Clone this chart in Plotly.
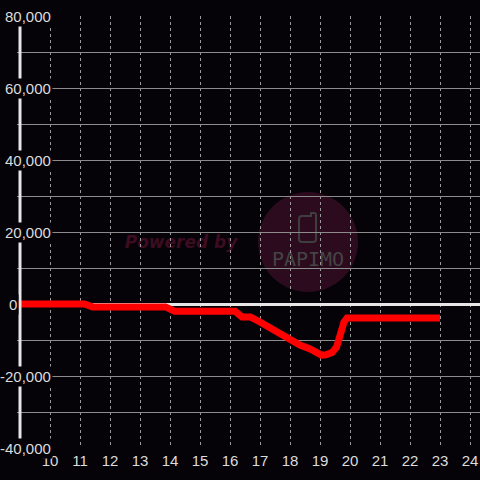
import plotly.graph_objects as go

# ---- data ----
TIME = [8.9, 11.15, 11.42, 13.85, 14.15, 16.17, 16.4, 16.68, 17.0, 17.33, 17.9, 18.33,
        18.67, 18.93, 19.05, 19.2, 19.4, 19.55, 19.65, 19.8, 19.9, 23.0]
VALUE = [0, 0, -800, -800, -2000, -2000, -3600, -3600, -5000, -6700, -9500, -11400,
         -12500, -13900, -14200, -14100, -13500, -12000, -9000, -5000, -3900, -3900]
X_TICKS = list(range(10, 25))
Y_GRID = list(range(-40000, 80001, 10000))
Y_LABEL_VALUES = [80000, 60000, 40000, 20000, 0, -20000, -40000]
Y_LABEL_TEXT = ["80,000", "60,000", "40,000", "20,000", "0", "-20,000", "-40,000"]

# ---- geometry ----
W, H = 480, 480
ML, MR, MT, MB = 17, 0, 16, 32
PW, PH = W - ML - MR, H - MT - MB
BG = "#050308"
TXT = "#dcdcdc"
FONT = "Liberation Sans, Arial, sans-serif"


def px2x(px):
    return (px - ML) / PW


def py2y(py):
    return 1 - (py - MT) / PH


fig = go.Figure()
fig.add_trace(go.Scatter(x=TIME, y=VALUE, mode="lines",
                         line=dict(color="#ff0000", width=7),
                         hoverinfo="skip", showlegend=False))

shapes = [
    # watermark circle
    dict(type="circle", xref="paper", yref="paper",
         x0=px2x(258), x1=px2x(358), y0=py2y(292), y1=py2y(192),
         fillcolor="#2d0b1f", line=dict(width=0), layer="below"),
    # phone icon
    dict(type="path", xref="paper", yref="paper", layer="below",
         path=(f"M {px2x(302)},{py2y(216)} L {px2x(311)},{py2y(216)} L {px2x(311)},{py2y(213)} "
               f"L {px2x(314)},{py2y(213)} Q {px2x(316)},{py2y(213)} {px2x(316)},{py2y(215)} "
               f"L {px2x(316)},{py2y(239)} Q {px2x(316)},{py2y(242)} {px2x(313)},{py2y(242)} "
               f"L {px2x(302)},{py2y(242)} Q {px2x(299)},{py2y(242)} {px2x(299)},{py2y(239)} "
               f"L {px2x(299)},{py2y(219)} Q {px2x(299)},{py2y(216)} {px2x(302)},{py2y(216)} Z"),
         line=dict(color="#3e3e3e", width=2)),
    # "Powered by" text (below grid)
    dict(type="rect", xref="paper", yref="paper", layer="below",
         x0=px2x(120), x1=px2x(242), y0=py2y(252), y1=py2y(230),
         line=dict(width=0), fillcolor="rgba(0,0,0,0)",
         label=dict(text="Powered by", textposition="middle center",
                    font=dict(family="DejaVu Sans", size=17, color="#3d0c20",
                              weight="bold", style="italic"))),
    # "PAPIMO" text
    dict(type="rect", xref="paper", yref="paper", layer="below",
         x0=px2x(270), x1=px2x(346), y0=py2y(268), y1=py2y(247),
         line=dict(width=0), fillcolor="rgba(0,0,0,0)",
         label=dict(text="PAPIMO", textposition="middle center",
                    font=dict(family="DejaVu Sans Mono", size=20, color="#444444"))),
    # y axis line
    dict(type="line", xref="x", yref="y", x0=9, x1=9, y0=-40000, y1=80000,
         line=dict(color="#e6e6e6", width=3), layer="above"),
]

annotations = []
for v, t in zip(Y_LABEL_VALUES, Y_LABEL_TEXT):
    if v == 0:
        annotations.append(dict(xref="paper", yref="y", x=px2x(7), y=v, text=t,
                                xanchor="left", yanchor="middle", showarrow=False,
                                bgcolor=BG, borderpad=1,
                                font=dict(family=FONT, size=15, color=TXT)))
    else:
        annotations.append(dict(xref="paper", yref="y", x=px2x(53), y=v, text=t,
                                xanchor="right", yanchor="middle", showarrow=False,
                                bgcolor=BG, borderpad=1,
                                font=dict(family=FONT, size=15, color=TXT)))

fig.update_layout(
    width=W, height=H,
    margin=dict(l=ML, r=MR, t=MT, b=MB, pad=0),
    paper_bgcolor=BG, plot_bgcolor=BG,
    shapes=shapes, annotations=annotations,
    showlegend=False,
    xaxis=dict(range=[8.9, 8.9 + PW / 30], tickvals=X_TICKS,
               ticktext=[str(t) for t in X_TICKS],
               showgrid=True, gridcolor="#9a9a9a", gridwidth=1, griddash="3px,3px",
               zeroline=False, showline=False, ticks="", ticklabelstandoff=2,
               tickfont=dict(family=FONT, size=15, color=TXT), fixedrange=True),
    yaxis=dict(range=[-40000, 80000], tickvals=Y_GRID, showticklabels=False,
               showgrid=True, gridcolor="#8c8c8c", gridwidth=1,
               zeroline=True, zerolinecolor="#e6e6e6", zerolinewidth=3,
               showline=False, ticks="", fixedrange=True),
)

fig.write_html("out.html", config={"displayModeBar": False},
               post_script="document.body.style.margin='0';document.body.style.background='#050308';")
